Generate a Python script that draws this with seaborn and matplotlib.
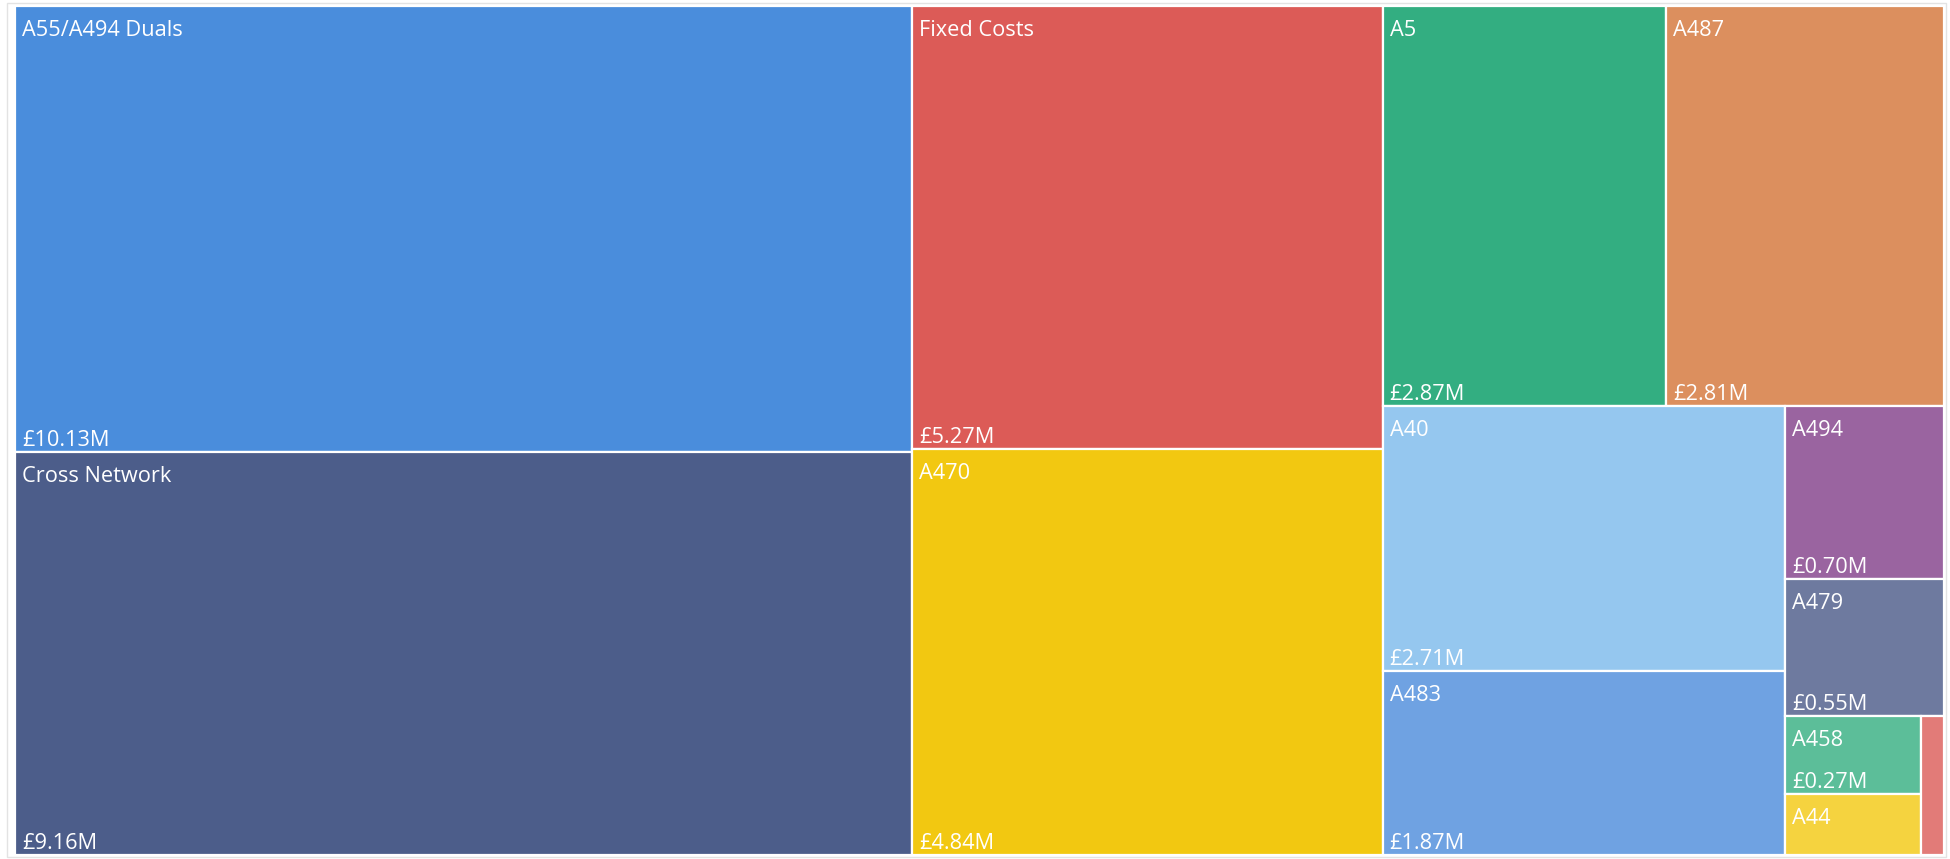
import matplotlib
matplotlib.use("Agg")
import matplotlib.pyplot as plt
from matplotlib.patches import Rectangle
import seaborn as sns

# spend by scheme, £M (last two are too small to be labelled)
names = ["A55/A494 Duals", "Cross Network", "Fixed Costs", "A470", "A5", "A487",
         "A40", "A483", "A494", "A479", "A458", "A44", "Other"]
values = [10.13, 9.16, 5.27, 4.84, 2.87, 2.81, 2.71, 1.87, 0.70, 0.55, 0.27, 0.21, 0.08]
colors = ["#4A8DDC", "#4C5D8A", "#DC5B57", "#F2C811", "#33AE81", "#DC8F5E",
          "#95C7EF", "#6FA2E2", "#9A64A0", "#6E7A9F", "#5CBE99", "#F5D33F", "#E27B78"]

PHI = (1 + 5 ** 0.5) / 2


def squarify(vals, x0, y0, x1, y1, ratio=PHI):
    # squarified treemap (same rule as d3.treemapSquarify, golden ratio target)
    rects = []
    value = sum(vals)
    i0 = 0
    n = len(vals)
    while i0 < n:
        dx, dy = x1 - x0, y1 - y0
        s = vals[i0]
        lo = hi = s
        alpha = max(dy / dx, dx / dy) / (value * ratio)
        beta = s * s * alpha
        best = max(hi / beta, beta / lo)
        i1 = i0 + 1
        while i1 < n:
            v = vals[i1]
            s2 = s + v
            beta = s2 * s2 * alpha
            new = max(max(hi, v) / beta, beta / min(lo, v))
            if new > best:
                break
            s, best = s2, new
            lo, hi = min(lo, v), max(hi, v)
            i1 += 1
        row = vals[i0:i1]
        if dx < dy:
            # row across the top
            h = dy * s / value
            x = x0
            for v in row:
                w = dx * v / s
                rects.append((x, y0, w, h))
                x += w
            y0 += h
        else:
            # column down the left
            w = dx * s / value
            y = y0
            for v in row:
                h = dy * v / s
                rects.append((x0, y, w, h))
                y += h
            x0 += w
        value -= s
        i0 = i1
    return rects


sns.set_theme(style="white")
plt.rcParams['font.family'] = ['Open Sans', 'DejaVu Sans']

fig = plt.figure(figsize=(19.5, 8.59), dpi=100)
ax = fig.add_axes([0, 0, 1, 1])
ax.set_xlim(0, 1950)
ax.set_ylim(859, 0)
ax.axis('off')

# light container frame
ax.add_patch(Rectangle((7, 3), 1939, 854, fill=False, edgecolor='#E3E3E3', lw=1))

rects = squarify(values, 15, 6, 1944, 855)
for (x, y, w, h), name, val, col in zip(rects, names, values, colors):
    ax.add_patch(Rectangle((x, y), w, h, facecolor=col, edgecolor='white', lw=1.6))
    if w > 40 and h > 35:
        ax.text(x + 7, y + 30, name, color='white', fontsize=15.7, va='baseline', ha='left')
    if w > 60 and h > 70:
        ax.text(x + 7, y + h - 6, f"£{val:.2f}M", color='white', fontsize=15.7,
                va='baseline', ha='left')

plt.savefig("out.png", dpi=100)
